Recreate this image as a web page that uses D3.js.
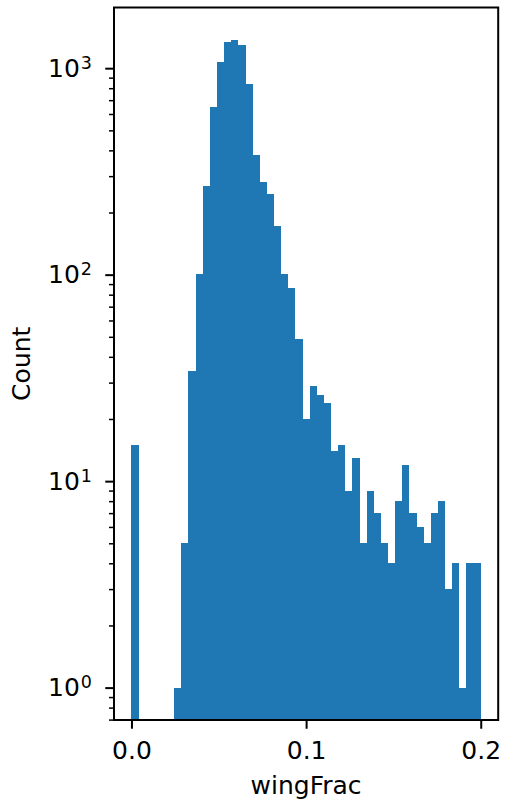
<!DOCTYPE html>
<html>
<head>
<meta charset="utf-8">
<script src="https://cdn.jsdelivr.net/npm/d3@7"></script>
<style>
  body { margin: 0; background: #fff; }
  text { font-family: "DejaVu Sans", sans-serif; fill: #000; }
</style>
</head>
<body>
<svg id="sg"></svg>
<script>
// histogram of wingFrac, 49 bins between binMin and binMax
const binMin = 0.0;
const binMax = 0.2;
const counts = [
  15, 0, 0, 0, 0, 0, 1, 5, 34, 101,
  269, 649, 1071, 1340, 1371, 1297, 841, 381, 282, 247,
  173, 101, 86, 49, 20, 29, 26, 24, 14, 15,
  9, 13, 5, 9, 7, 5, 4, 8, 12, 7,
  6, 5, 7, 8, 3, 4, 1, 4, 4
];
const xTicks = [0.0, 0.1, 0.2];
const yTicks = [1, 10, 100, 1000];
const yTickExp = ["0", "1", "2", "3"];
const xLabel = "wingFrac";
const yLabel = "Count";

let svgWidth = 505,
  svgHeight = 802;
let margin = { top: 7.5, right: 6.8, bottom: 82, left: 114 };
let width = svgWidth - margin.left - margin.right;
let height = svgHeight - margin.top - margin.bottom;

let svg = d3.select("#sg").attr("width", svgWidth).attr("height", svgHeight);
let g = svg
  .append("g")
  .attr("transform", "translate(" + margin.left + "," + margin.top + ")");

let binW = (binMax - binMin) / counts.length;
let bins = counts.map(function(c, i) {
  return { x0: binMin + i * binW, x1: binMin + (i + 1) * binW, count: c };
});

let pad = (binMax - binMin) * 0.05;
let x = d3.scaleLinear().domain([binMin - pad, binMax + pad]).range([0, width]);

let maxC = d3.max(counts);
let lo = 1, hi = maxC;
let lpad = (Math.log10(hi) - Math.log10(lo)) * 0.05;
let y = d3
  .scaleLog()
  .domain([Math.pow(10, -lpad), Math.pow(10, Math.log10(hi) + lpad)])
  .range([height, 0]);

// bars
g.append("g")
  .selectAll("rect")
  .data(bins.filter(function(d) { return d.count > 0; }))
  .enter()
  .append("rect")
  .attr("x", function(d) { return x(d.x0); })
  .attr("width", function(d) { return x(d.x1) - x(d.x0); })
  .attr("y", function(d) { return y(d.count); })
  .attr("height", function(d) { return height - y(d.count); })
  .attr("fill", "#1f77b4")
  .attr("shape-rendering", "crispEdges");

// x axis
let xAxis = d3
  .axisBottom(x)
  .tickValues(xTicks)
  .tickFormat(d3.format(".1f"))
  .tickSize(8.75)
  .tickPadding(6)
  .tickSizeOuter(0);
let gx = g.append("g").attr("transform", "translate(0," + height + ")").call(xAxis);
gx.select(".domain").remove();
gx.selectAll("line").attr("stroke", "#000").attr("stroke-width", 2);
gx.selectAll("text").attr("font-size", 25).attr("dy", "0.95em").attr("font-family", "DejaVu Sans");

// y minor ticks
let minor = [];
[0.1, 1, 10, 100, 1000].forEach(function(dec) {
  for (let k = 2; k <= 9; k++) {
    let v = dec * k;
    if (v >= y.domain()[0] && v <= y.domain()[1]) minor.push(v);
  }
});
let yMinor = d3.axisLeft(y).tickValues(minor).tickFormat("").tickSize(5).tickSizeOuter(0);
let gym = g.append("g").call(yMinor);
gym.select(".domain").remove();
gym.selectAll("line").attr("stroke", "#000").attr("stroke-width", 1.5);

// y major ticks with 10^n labels
let yMajor = d3.axisLeft(y).tickValues(yTicks).tickFormat("").tickSize(8.75).tickSizeOuter(0);
let gy = g.append("g").call(yMajor);
gy.select(".domain").remove();
gy.selectAll("line").attr("stroke", "#000").attr("stroke-width", 2);

let labels = g.append("g");
yTicks.forEach(function(v, i) {
  let t = labels
    .append("text")
    .attr("x", -22)
    .attr("y", y(v) + 8.4)
    .attr("text-anchor", "end")
    .attr("font-size", 25);
  t.append("tspan").text("10");
  t.append("tspan")
    .attr("font-size", 17.5)
    .attr("dx", 1)
    .attr("dy", -7.7)
    .text(yTickExp[i]);
});

// frame
g.append("rect")
  .attr("x", 0)
  .attr("y", 0)
  .attr("width", width)
  .attr("height", height)
  .attr("fill", "none")
  .attr("stroke", "#000")
  .attr("stroke-width", 2);

// axis labels
svg.append("text")
  .attr("x", margin.left + width / 2)
  .attr("y", 794)
  .attr("text-anchor", "middle")
  .attr("font-size", 25)
  .text(xLabel);

svg.append("text")
  .attr("transform", "translate(30," + (margin.top + height / 2) + ") rotate(-90)")
  .attr("text-anchor", "middle")
  .attr("font-size", 25)
  .text(yLabel);
</script>
</body>
</html>
